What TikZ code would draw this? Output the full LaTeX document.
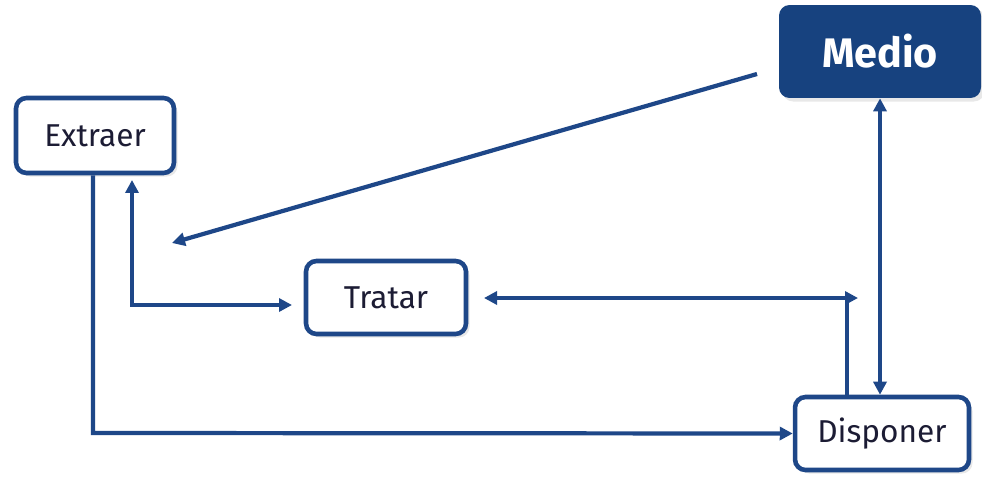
\documentclass[tikz,border=0pt]{standalone}
\usepackage{fontspec}
\setmainfont{Fira Sans}
\usetikzlibrary{arrows.meta,shadows}
\definecolor{dblue}{HTML}{1E4788}
\definecolor{mblue}{HTML}{17427F}
\definecolor{txt}{HTML}{1C1C34}
\tikzset{
  box/.style={draw=dblue, line width=2.6pt, rounded corners=6pt, fill=white,
    text=txt, font=\fontsize{18}{21}\selectfont, inner sep=0pt,
    drop shadow={opacity=0.18, shadow xshift=2pt, shadow yshift=-2pt}},
  mbox/.style={fill=mblue, rounded corners=6pt, text=white,
    font=\fontsize{23.5}{26}\selectfont\bfseries, inner sep=0pt,
    minimum width=4.04cm, minimum height=1.86cm,
    drop shadow={opacity=0.18, shadow xshift=2pt, shadow yshift=-2pt}},
  conn/.style={draw=dblue, line width=2.4pt},
  tip/.style={-{Triangle[length=2.6mm,width=2.6mm]}},
  tips/.style={{Triangle[length=2.6mm,width=2.6mm]}-{Triangle[length=2.6mm,width=2.6mm]}},
}
\begin{document}
\begin{tikzpicture}[x=0.02cm,y=-0.02cm]
\useasboundingbox (0,0) rectangle (982,486);
\node[box, minimum width=3.16cm, minimum height=1.5cm] (ext) at (95,135.5) {Extraer};
\node[box, minimum width=3.2cm, minimum height=1.46cm] (tra) at (386,297.5) {Tratar};
\node[mbox] (med) at (880,51.5) {Medio};
\node[box, minimum width=3.48cm, minimum height=1.46cm] (dis) at (882,433.5) {Disponer};
\coordinate (m1) at (757,74);
\coordinate (m2) at (172,243);
\coordinate (e1) at (132,180);
\coordinate (c1) at (132,305);
\coordinate (t1) at (292,305);
\coordinate (r1) at (484,298);
\coordinate (r2) at (858,298);
\coordinate (j1) at (847,298);
\draw[conn, tip] (m1) -- (m2);
\draw[conn, tip] (ext.south -| 93,0) -- (93,433) -- (dis.west);
\draw[conn, tips] (e1) -- (c1) -- (t1);
\draw[conn, tips] (r1) -- (r2);
\draw[conn] (j1) -- (j1 |- dis.north);
\draw[conn, tips] (med.south -| 880,0) -- (dis.north -| 880,0);
\end{tikzpicture}
\end{document}
